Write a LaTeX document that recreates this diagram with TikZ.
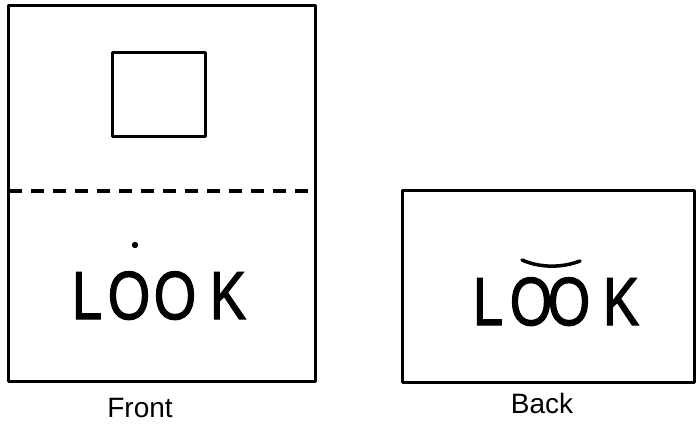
\documentclass[tikz,border=0pt]{standalone}
\usepackage{fontspec}
\setmainfont{Liberation Sans}
\newfontfamily\lookfont[FakeBold=2]{Liberation Sans}
\begin{document}
\begin{tikzpicture}[x=1pt,y=-1pt,
  frame/.style={draw=black,line width=3pt,line join=round},
  bigletter/.style={inner sep=0pt,anchor=base,font=\lookfont\fontsize{68}{68}\selectfont,xscale=0.8},
  caption/.style={inner sep=0pt,anchor=base,font=\fontsize{28}{28}\selectfont}]
\useasboundingbox (0,0) rectangle (696,423);
% Front card
\draw[frame] (8,5) rectangle (315,381);
\draw[frame] (112,52) rectangle (205,136);
\coordinate (dl) at (9,191);
\coordinate (dr) at (314,191);
\draw[line width=3.2pt,dash pattern=on 13pt off 9pt] (dl) -- (dr);
\fill (135,245) circle (3.2pt);
\node[bigletter] (fL) at (87,319) {L};
\node[bigletter] (fO1) at (129,319) {O};
\node[bigletter] (fO2) at (175,319) {O};
\node[bigletter] (fK) at (228,319) {K};
\node[caption] (front) at (140,417) {Front};
% Back card
\draw[frame] (402,190) rectangle (694,382);
\node[bigletter] (bL) at (488,325) {L};
\node[bigletter] (bO1) at (531,325) {O};
\node[bigletter] (bO2) at (569,325) {O};
\node[bigletter] (bK) at (621,325) {K};
\draw[line width=3.5pt,line cap=round] (522,260) .. controls (540,268) and (562,268) .. (580,261);
\node[caption] (back) at (542,413) {Back};
\end{tikzpicture}
\end{document}
